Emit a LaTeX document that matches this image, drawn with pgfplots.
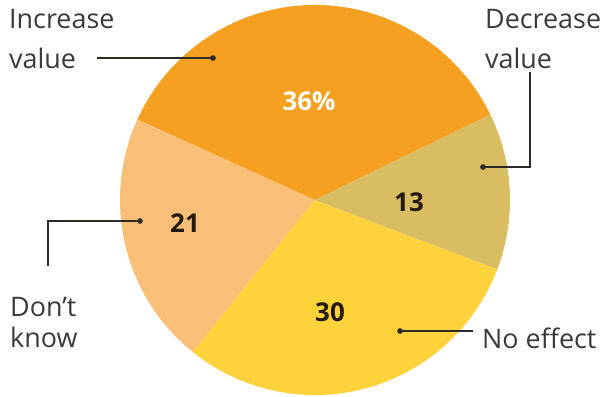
\documentclass[border=0pt]{standalone}
\usepackage{pgfplots}
\usepackage{pgfplotstable}
\pgfplotsset{compat=1.18}
\usepackage{fontspec}
\setmainfont{Open Sans}
\definecolor{cInc}{HTML}{F6A021}
\definecolor{cDk}{HTML}{F9BE78}
\definecolor{cNo}{HTML}{FDD23B}
\definecolor{cDec}{HTML}{D9BD63}
\definecolor{txt}{HTML}{3A3A3A}
\definecolor{num}{HTML}{24190F}
\definecolor{lead}{HTML}{2E2A26}

\pgfplotstableread{
label value
Increase 36
Dontknow 21
Noeffect 30
Decrease 13
}\piedata

\begin{document}
\begin{tikzpicture}
\pgfplotstablegetelem{0}{value}\of\piedata\let\vA\pgfplotsretval
\pgfplotstablegetelem{1}{value}\of\piedata\let\vB\pgfplotsretval
\pgfplotstablegetelem{2}{value}\of\piedata\let\vC\pgfplotsretval
\pgfplotstablegetelem{3}{value}\of\piedata\let\vD\pgfplotsretval
\pgfmathsetmacro\aA{26}
\pgfmathsetmacro\aB{\aA+3.6*\vA}
\pgfmathsetmacro\aC{\aB+3.6*\vB}
\pgfmathsetmacro\aD{\aC+3.6*\vC}
\pgfmathsetmacro\aE{\aD+3.6*\vD}
\begin{axis}[
  x=1bp, y=1bp,
  xmin=0, xmax=603, ymin=0, ymax=396,
  hide axis, clip=false,
]
\coordinate (bbll) at (axis cs:0,0);
\coordinate (bbur) at (axis cs:603,396);
\fill[cInc] (axis cs:315,196) -- ++(\aA:195bp) arc[start angle=\aA, end angle=\aB, radius=195bp] -- cycle;
\fill[cDk] (axis cs:315,196) -- ++(\aB:195bp) arc[start angle=\aB, end angle=\aC, radius=195bp] -- cycle;
\fill[cNo] (axis cs:315,196) -- ++(\aC:195bp) arc[start angle=\aC, end angle=\aD, radius=195bp] -- cycle;
\fill[cDec] (axis cs:315,196) -- ++(\aD:195bp) arc[start angle=\aD, end angle=\aE, radius=195bp] -- cycle;

% leader lines
\addplot[lead, line width=1.6pt, mark=none] coordinates {(97,338) (213,338)};
\addplot[lead, line width=1.6pt, mark=none] coordinates {(530,324) (530,229) (483,229)};
\addplot[lead, line width=1.6pt, mark=none] coordinates {(140,175) (48,175) (48,130)};
\addplot[lead, line width=1.6pt, mark=none] coordinates {(400,65) (473,65)};
\addplot[only marks, mark=*, mark size=2.6pt, lead] coordinates {(213,338) (483,229) (140,175) (400,65)};

% slice values
\node[font=\fontsize{26}{30}\selectfont\bfseries, text=white] at (axis cs:309,295) {\vA\%};
\node[font=\fontsize{26}{30}\selectfont\bfseries, text=num] at (axis cs:185,173) {\vB};
\node[font=\fontsize{26}{30}\selectfont\bfseries, text=num] at (axis cs:330,84) {\vC};
\node[font=\fontsize{26}{30}\selectfont\bfseries, text=num] at (axis cs:409,194) {\vD};

% category labels
\node[anchor=base west, inner sep=0pt, font=\fontsize{27}{30}\selectfont, text=txt] at (axis cs:9,368) {Increase};
\node[anchor=base west, inner sep=0pt, font=\fontsize{27}{30}\selectfont, text=txt] at (axis cs:9,328) {value};
\node[anchor=base west, inner sep=0pt, font=\fontsize{27}{30}\selectfont, text=txt] at (axis cs:485,368) {Decrease};
\node[anchor=base west, inner sep=0pt, font=\fontsize{27}{30}\selectfont, text=txt] at (axis cs:485,328) {value};
\node[anchor=base west, inner sep=0pt, font=\fontsize{27}{30}\selectfont, text=txt] at (axis cs:10,80) {Don’t};
\node[anchor=base west, inner sep=0pt, font=\fontsize{27}{30}\selectfont, text=txt] at (axis cs:10,49) {know};
\node[anchor=base west, inner sep=0pt, font=\fontsize{27}{30}\selectfont, text=txt] at (axis cs:482,48) {No effect};
\end{axis}
\pgfresetboundingbox
\path[use as bounding box] (bbll) rectangle (bbur);
\end{tikzpicture}
\end{document}
